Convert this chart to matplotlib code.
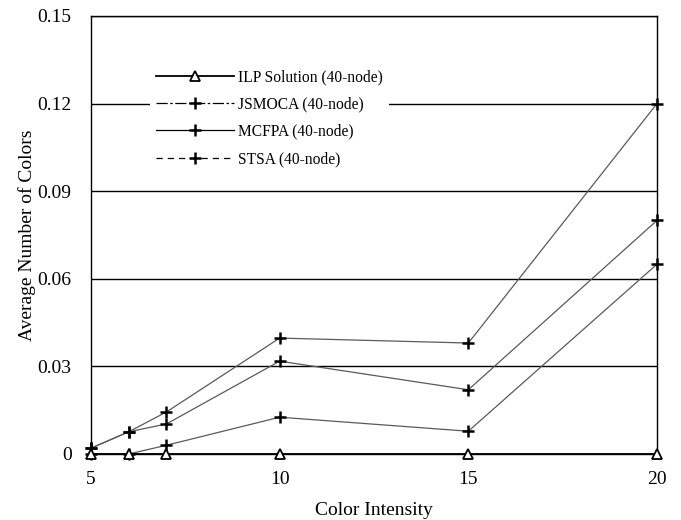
import matplotlib
matplotlib.use("Agg")
import matplotlib.pyplot as plt
from matplotlib.lines import Line2D
from matplotlib.ticker import FixedLocator, FixedFormatter

plt.rcParams['font.family'] = ['Liberation Serif', 'DejaVu Serif']

intensity = [5, 6, 7, 10, 15, 20]
ilp = [0.0, 0.0, 0.0, 0.0, 0.0, 0.0]
jsmoca = [0.002, 0.0076, 0.0103, 0.0318, 0.022, 0.080]
mcfpa = [0.002, 0.0076, 0.0144, 0.0397, 0.038, 0.120]
stsa = [0.0, 0.0, 0.003, 0.0126, 0.0078, 0.065]

series_names = ["ILP Solution (40-node)", "JSMOCA (40-node)",
                "MCFPA (40-node)", "STSA (40-node)"]

x_ticks = [5, 10, 15, 20]
y_ticks = [0, 0.03, 0.06, 0.09, 0.12, 0.15]
y_labels = ["0", "0.03", "0.06", "0.09", "0.12", "0.15"]

fig = plt.figure(figsize=(6.81, 5.20), dpi=100)
ax = fig.add_axes([91 / 681, 1 - 454 / 520, 566 / 681, 438 / 520])

line_col = "#5a5a5a"
plus = dict(marker="+", ms=9, mec="black", mew=1.8, clip_on=False)

ax.plot(intensity, ilp, color="black", lw=1.3, marker="^", ms=6.5,
        mfc="white", mec="black", mew=1.3, clip_on=False, zorder=4)
ax.plot(intensity, jsmoca, color=line_col, lw=0.9, zorder=3, **plus)
ax.plot(intensity, mcfpa, color=line_col, lw=0.9, zorder=3, **plus)
ax.plot(intensity, stsa, color=line_col, lw=0.9, zorder=3, **plus)

ax.set_xlim(5, 20)
ax.set_ylim(0, 0.15)
ax.xaxis.set_major_locator(FixedLocator(x_ticks))
ax.yaxis.set_major_locator(FixedLocator(y_ticks))
ax.yaxis.set_major_formatter(FixedFormatter(y_labels))
ax.tick_params(axis="both", length=0, labelsize=14)
ax.tick_params(axis="x", pad=12)
ax.tick_params(axis="y", pad=14)
ax.grid(axis="y", color="black", lw=1.0)
for s in ax.spines.values():
    s.set_color("black")
    s.set_linewidth(1.0)

ax.set_xlabel("Color Intensity", fontsize=14, labelpad=10)
ax.set_ylabel("Average Number of Colors", fontsize=14, labelpad=1)

handles = [
    Line2D([], [], color="black", lw=1.3, marker="^", ms=6.5, mfc="white", mec="black", mew=1.3),
    Line2D([], [], color="black", lw=0.9, ls=(0, (9, 2, 2, 2)), marker="+", ms=9, mec="black", mew=1.8),
    Line2D([], [], color="black", lw=0.9, ls="-", marker="+", ms=9, mec="black", mew=1.8),
    Line2D([], [], color="black", lw=0.9, ls=(0, (5, 4)), marker="+", ms=9, mec="black", mew=1.8),
]
leg = ax.legend(handles, series_names, loc="upper left", bbox_to_anchor=(0.09, 0.91),
                frameon=True, fancybox=False, framealpha=1.0, facecolor="white",
                edgecolor="none", borderpad=0.4, fontsize=11.2, handlelength=5.0,
                labelspacing=0.72, handletextpad=0.3)

fig.savefig("out.png", dpi=100)
